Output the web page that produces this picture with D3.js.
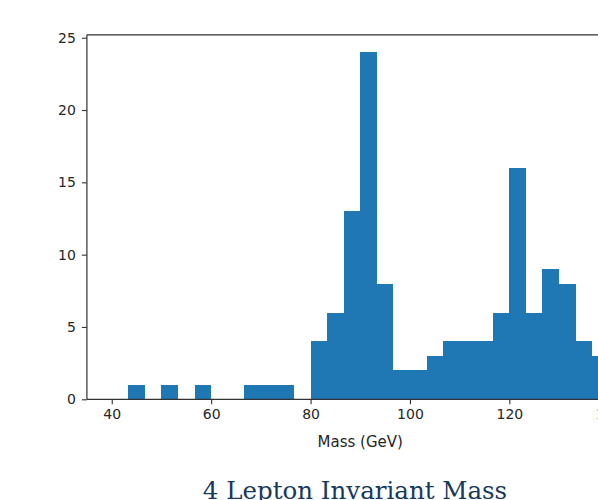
<!DOCTYPE html>
<html>
<head>
<meta charset="utf-8">
<script src="https://cdn.jsdelivr.net/npm/d3@7"></script>
<style>
  html, body { margin: 0; padding: 0; background: #fff; overflow: hidden; }
  svg { display: block; }
</style>
</head>
<body>
<svg id="chart" width="598" height="500"></svg>
<script>
// ---- data ----
const binLow = 40;
const binHigh = 140;
const counts = [0, 1, 0, 1, 0, 1, 0, 0, 1, 1, 1, 0, 4, 6, 13, 24, 8, 2, 2, 3, 4, 4, 4, 6, 16, 6, 9, 8, 4, 3];
const xTicks = [40, 60, 80, 100, 120, 140];
const yTicks = [0, 5, 10, 15, 20, 25];
const xLabel = "Mass (GeV)";
const title = "4 Lepton Invariant Mass";

// ---- layout ----
const svg = d3.select("#chart");
const binW = (binHigh - binLow) / counts.length;
const bins = counts.map((c, i) => ({ x0: binLow + i * binW, x1: binLow + (i + 1) * binW, n: c }));

const pad = (binHigh - binLow) * 0.05;
const x = d3.scaleLinear().domain([binLow - pad, binHigh + pad]).range([86.9, 633.6]);
const y = d3.scaleLinear().domain([0, d3.max(counts) * 1.05]).range([399.3, 34.8]);

const fontSans = "'DejaVu Sans', sans-serif";

// bars (rounded edges so neighbouring bars meet without seams)
svg.append("g").attr("shape-rendering", "crispEdges")
  .selectAll("rect").data(bins.filter(d => d.n > 0)).join("rect")
  .attr("x", d => Math.round(x(d.x0)))
  .attr("width", d => Math.round(x(d.x1)) - Math.round(x(d.x0)))
  .attr("y", d => Math.round(y(d.n)))
  .attr("height", d => Math.round(y(0)) - Math.round(y(d.n)))
  .attr("fill", "#1f77b4");

// spines
const [xl, xr] = x.range();
const [yb, yt] = y.range();
const spine = svg.append("g").attr("stroke", "#333").attr("stroke-width", 1.2).attr("fill", "none");
spine.append("line").attr("x1", xl).attr("x2", xl).attr("y1", yb).attr("y2", yt);
spine.append("line").attr("x1", xr).attr("x2", xr).attr("y1", yb).attr("y2", yt);
spine.append("line").attr("x1", xl).attr("x2", xr).attr("y1", yt).attr("y2", yt);
spine.append("line").attr("x1", xl).attr("x2", xr).attr("y1", yb).attr("y2", yb);

// axes
const xAxis = d3.axisBottom(x).tickValues(xTicks).tickSize(5).tickPadding(5).tickFormat(d3.format("d"));
const yAxis = d3.axisLeft(y).tickValues(yTicks).tickSize(5).tickPadding(6).tickFormat(d3.format("d"));

const gx = svg.append("g").attr("transform", `translate(0,${yb})`).call(xAxis);
const gy = svg.append("g").attr("transform", `translate(${xl},0)`).call(yAxis);
[gx, gy].forEach(g => {
  g.select(".domain").remove();
  g.selectAll(".tick line").attr("stroke", "#333").attr("stroke-width", 1.1);
  g.selectAll(".tick text").attr("fill", "#262626").style("font-family", fontSans).style("font-size", "14px");
});

// x label
svg.append("text")
  .attr("x", (xl + xr) / 2)
  .attr("y", 446.5)
  .attr("text-anchor", "middle")
  .attr("fill", "#262626")
  .style("font-family", fontSans)
  .style("font-size", "15px")
  .text(xLabel);

// title
svg.append("text")
  .attr("x", 355)
  .attr("y", 498.5)
  .attr("text-anchor", "middle")
  .attr("fill", "#17395c")
  .style("font-family", "'DejaVu Serif', serif")
  .style("font-size", "24.5px")
  .text(title);
</script>
</body>
</html>
